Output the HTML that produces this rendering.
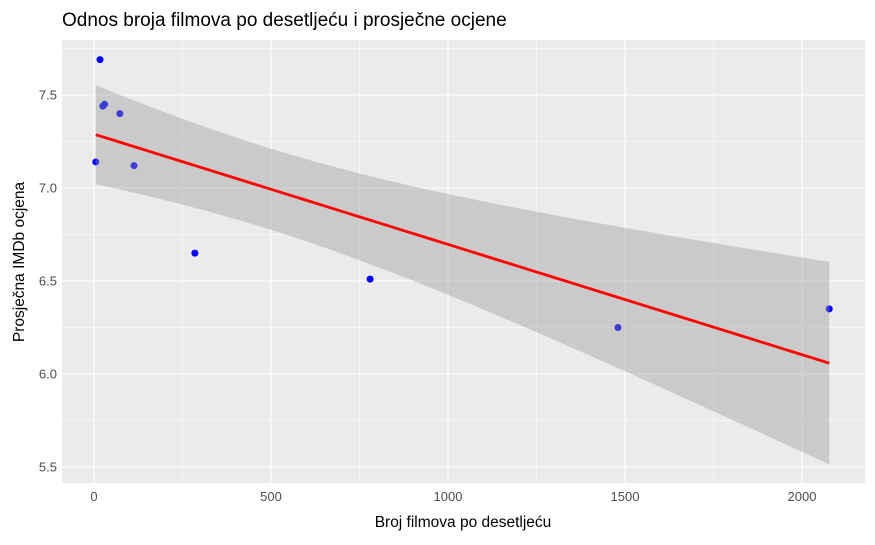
<!DOCTYPE html>
<html><head><meta charset="utf-8"><style>
body{margin:0;background:#fff;font-family:"Liberation Sans",sans-serif;}
</style></head><body>
<svg id="chart" width="875" height="540" xmlns="http://www.w3.org/2000/svg">
<rect x="62" y="40" width="803" height="443" fill="#ebebeb"/>
<g id="grid"></g>
<g id="points"></g>
<g id="band"></g>
<g id="fit"></g>
<g id="ticks"></g>
<text x="62" y="26" font-size="19" fill="#000">Odnos broja filmova po desetljeću i prosječne ocjene</text>
<text x="463" y="527" font-size="15.5" text-anchor="middle" fill="#000">Broj filmova po desetljeću</text>
<text transform="translate(24,262) rotate(-90)" font-size="15.5" text-anchor="middle" fill="#000">Prosječna IMDb ocjena</text>
</svg>
<script>
const filmCounts=[17,25,30,73,5,113,285,780,1480,2077];
const avgRatings=[7.69,7.44,7.45,7.40,7.14,7.12,6.65,6.51,6.25,6.35];
const xTicks=[0,500,1000,1500,2000];
const yTicks=[5.5,6.0,6.5,7.0,7.5];
const NS="http://www.w3.org/2000/svg";
const sx=v=>94+v*0.354;
const sy=v=>467-(v-5.5)*186;
function mk(tag,attrs,parent){const e=document.createElementNS(NS,tag);for(const k in attrs)e.setAttribute(k,attrs[k]);document.getElementById(parent).appendChild(e);return e;}
for(let i=0;i<xTicks.length;i++){
  const v=xTicks[i];
  let g=mk('line',{x1:sx(v),x2:sx(v),y1:40,y2:483,stroke:'#fff','stroke-width':1.1},'grid');
  
  
  if(i<xTicks.length-1){const m=(v+xTicks[i+1])/2;
    let gm=mk('line',{x1:sx(m),x2:sx(m),y1:40,y2:483,stroke:'#fff','stroke-width':0.5},'grid');
    
    }
  let t=mk('text',{x:sx(v),y:501,'font-size':13,'text-anchor':'middle',fill:'#4d4d4d'},'ticks');t.textContent=v;
  
  
}
for(let i=0;i<yTicks.length;i++){
  const v=yTicks[i];
  let g=mk('line',{x1:62,x2:865,y1:sy(v),y2:sy(v),stroke:'#fff','stroke-width':1.1},'grid');
  
  
  const m=v+0.25;
  let gm=mk('line',{x1:62,x2:865,y1:sy(m),y2:sy(m),stroke:'#fff','stroke-width':0.5},'grid');
  
  
  let t=mk('text',{x:57,y:sy(v)+4.5,'font-size':13,'text-anchor':'end',fill:'#4d4d4d'},'ticks');t.textContent=v.toFixed(1);
  
  
}
for(let i=0;i<filmCounts.length;i++){
  let c=mk('circle',{cx:sx(filmCounts[i]),cy:sy(avgRatings[i]),r:3.5,fill:'#0000ff'},'points');
  
  
}
const n=filmCounts.length;
const mx=filmCounts.reduce((a,b)=>a+b)/n, my=avgRatings.reduce((a,b)=>a+b)/n;
let sxx=0,sxy=0;for(let i=0;i<n;i++){sxx+=(filmCounts[i]-mx)**2;sxy+=(filmCounts[i]-mx)*(avgRatings[i]-my);}
const b=sxy/sxx,a=my-b*mx;
let sse=0;for(let i=0;i<n;i++)sse+=(avgRatings[i]-a-b*filmCounts[i])**2;
const s=Math.sqrt(sse/(n-2)),tc=2.306;
const x0=Math.min(...filmCounts),x1=Math.max(...filmCounts);
let up=[],lo=[],mid=[];
for(let k=0;k<=80;k++){const x=x0+(x1-x0)*k/80;const yh=a+b*x;const se=s*Math.sqrt(1/n+(x-mx)**2/sxx);
  up.push(sx(x)+','+sy(yh+tc*se));lo.push(sx(x)+','+sy(yh-tc*se));mid.push(sx(x)+','+sy(yh));}
let band=mk('polygon',{points:up.concat(lo.reverse()).join(' '),fill:'#999999','fill-opacity':0.4},'band');


let line=mk('polyline',{points:mid.join(' '),fill:'none',stroke:'#ff0000','stroke-width':2.8},'fit');


</script>
</body></html>
